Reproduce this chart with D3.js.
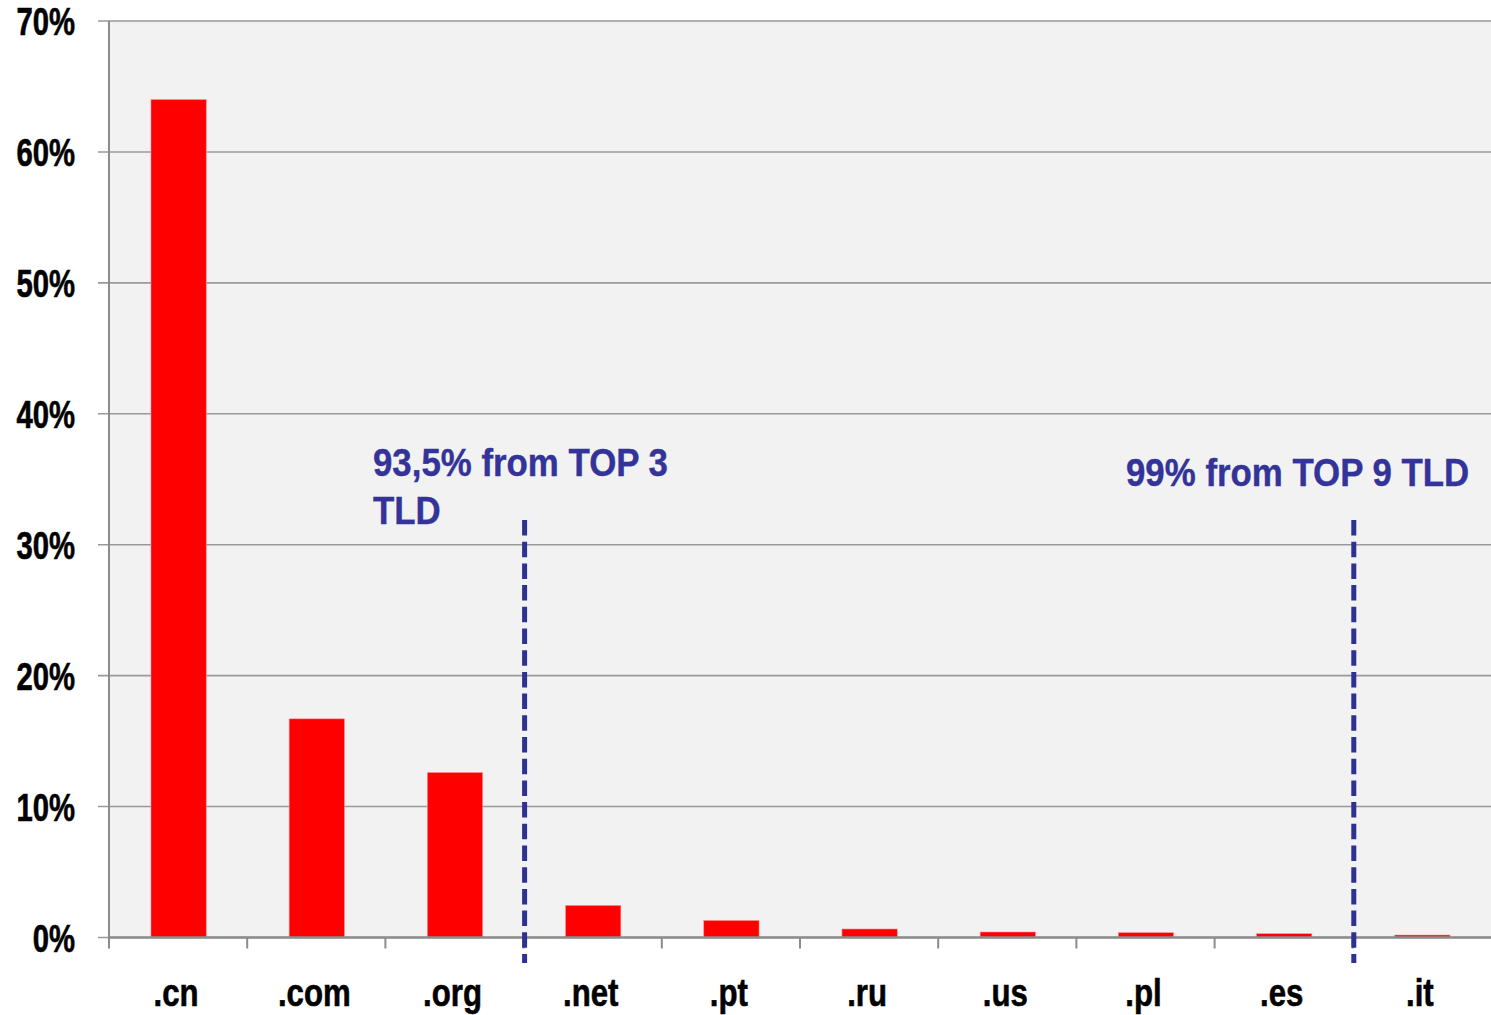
<!DOCTYPE html>
<html lang="en">
<head>
<meta charset="UTF-8">
<title>TLD share</title>
<script src="https://d3js.org/d3.v7.min.js"></script>
<style>
    *{margin:0;padding:0}
    body{background:#fff;width:1491px;height:1015px;overflow:hidden}
    text{font-family:"Liberation Sans Narrow","Arial Narrow","Liberation Sans",Arial,sans-serif;font-weight:bold}
    .ylab{font-size:38px;fill:#000;stroke:#000;stroke-width:0.6px}
    .xlab{font-size:39px;fill:#000;stroke:#000;stroke-width:0.6px}
    .note{font-size:38.5px;fill:#333399;stroke:#333399;stroke-width:0.4px}
</style>
</head>
<body>
<div id="chart"></div>
<script>
    // share of domains per top level domain
    var tlds = ['.cn','.com','.org','.net','.pt','.ru','.us','.pl','.es','.it'];
    var shares = [64.0, 16.7, 12.6, 2.45, 1.3, 0.65, 0.42, 0.37, 0.29, 0.19];
    var yTicks = [0,10,20,30,40,50,60,70];
    // dashed separators: drawn after the n-th category
    var cutAfter = [3, 9];
    var noteLines = [['93,5% from TOP 3','TLD'], ['99% from TOP 9 TLD']];

    function drawChart() {
        var W = 1491, H = 1015;
        var mLeft = 109, mRight = 1491, mTop = 21, mBottom = 937.5;

        var svg = d3.select('#chart').append('svg')
            .attr('width', W).attr('height', H);

        var x = d3.scaleBand().domain(tlds).range([mLeft, mRight]).paddingInner(0.6).paddingOuter(0.3);
        var xb = d3.scaleLinear().domain([0, tlds.length]).range([mLeft, mRight]);
        var y = d3.scaleLinear().domain([0, 70]).range([mBottom, mTop]);

        // narrow bold font is not installed, so squeeze the regular one
        function squeeze(sel, px, py, sx) {
            sel.attr('transform', function(d, i){
                return 'translate(' + px(d, i) + ',' + py(d, i) + ') scale(' + sx + ',1)';
            });
        }

        svg.append('rect')
            .attr('x', mLeft).attr('y', mTop)
            .attr('width', mRight - mLeft).attr('height', mBottom - mTop)
            .attr('fill', '#f2f2f2');

        // grid + y ticks
        svg.append('g').selectAll('line').data(yTicks).enter().append('line')
            .attr('x1', mLeft - 11).attr('x2', mRight)
            .attr('y1', function(d){return y(d);}).attr('y2', function(d){return y(d);})
            .attr('stroke', '#999').attr('stroke-width', 1.6);

        svg.append('g').selectAll('text').data(yTicks).enter().append('text')
            .attr('class', 'ylab')
            .attr('text-anchor', 'end')
            .call(squeeze, function(){return 75;}, function(d){return y(d) + 14;}, 0.77)
            .text(function(d){return d + '%';});

        // y axis line
        svg.append('line')
            .attr('x1', mLeft).attr('x2', mLeft).attr('y1', mTop).attr('y2', mBottom + 11)
            .attr('stroke', '#8c8c8c').attr('stroke-width', 2);

        // x ticks at category boundaries
        svg.append('g').selectAll('line').data(d3.range(1, tlds.length)).enter().append('line')
            .attr('x1', function(d){return xb(d);}).attr('x2', function(d){return xb(d);})
            .attr('y1', mBottom).attr('y2', mBottom + 11)
            .attr('stroke', '#8c8c8c').attr('stroke-width', 2);

        // bars
        svg.append('g').selectAll('rect').data(tlds).enter().append('rect')
            .attr('x', function(d){return x(d) + 0.5;})
            .attr('width', x.bandwidth())
            .attr('y', function(d,i){return y(shares[i]);})
            .attr('height', function(d,i){return mBottom - y(shares[i]);})
            .attr('fill', '#ff0000')
            .attr('stroke', '#ff8f8f').attr('stroke-width', 0.6);

        // baseline over bars
        svg.append('line')
            .attr('x1', mLeft).attr('x2', mRight).attr('y1', mBottom).attr('y2', mBottom)
            .attr('stroke', '#8c8c8c').attr('stroke-width', 2.5);

        svg.append('g').selectAll('text').data(tlds).enter().append('text')
            .attr('class', 'xlab')
            .attr('text-anchor', 'middle')
            .call(squeeze, function(d){return x(d) + x.bandwidth() / 2 - 2;}, function(){return 1006;}, 0.8)
            .text(function(d){return d;});

        // separators
        svg.append('g').selectAll('line').data(cutAfter).enter().append('line')
            .attr('x1', function(d){return xb(d) + 1;}).attr('x2', function(d){return xb(d) + 1;})
            .attr('y1', 520).attr('y2', 963)
            .attr('stroke', '#2e3192').attr('stroke-width', 5)
            .attr('stroke-dasharray', '15.5,6.2');

        // notes
        var notePos = [[373, 476], [1126, 486]];
        noteLines.forEach(function(lines, k){
            svg.append('g').selectAll('text').data(lines).enter().append('text')
                .attr('class', 'note')
                .call(squeeze, function(){return notePos[k][0];}, function(d, j){return notePos[k][1] + j * 48;}, 0.905)
                .text(function(d){return d;});
        });
    }

    drawChart();
</script>
</body>
</html>
